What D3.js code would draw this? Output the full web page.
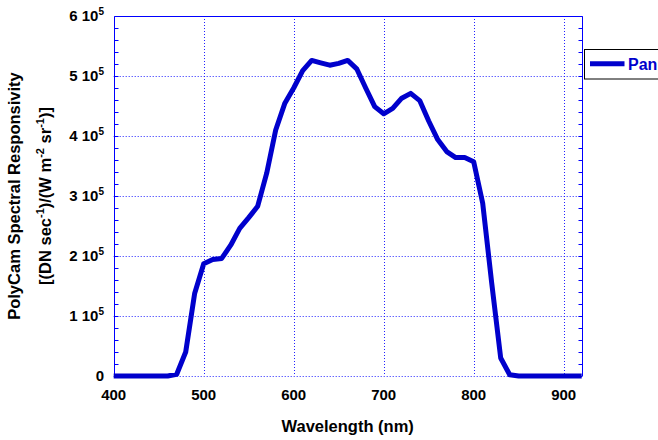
<!DOCTYPE html>
<html>
<head>
<meta charset="utf-8">
<script src="https://cdn.jsdelivr.net/npm/d3@7"></script>
<style>
  html, body { margin: 0; padding: 0; background: #fff; }
  svg { display: block; font-family: "Liberation Sans", Arial, sans-serif; }
</style>
</head>
<body>
<svg id="chart" width="658" height="440"></svg>
<script>
const wavelengths = [400,410,420,430,440,450,460,470,480,490,500,510,520,530,540,550,560,570,580,590,600,610,620,630,640,650,660,670,680,690,700,710,720,730,740,750,760,770,780,790,800,810,820,830,840,850,860,870,880,890,900,910,920];
const panValues = [0,0,0,0,0,0,0,3000,40000,138000,187000,194000,196000,218000,246000,264000,283000,338000,410000,454000,480000,509000,526000,522000,518000,521000,526000,512000,480000,449000,437000,446000,463000,471000,459000,425000,394000,374000,364000,364000,357000,288000,155000,30000,2000,0,0,0,0,0,0,0,0];
const xTicks = [400,500,600,700,800,900];
const yTicks = [0,100000,200000,300000,400000,500000,600000];
const yMinorTicks = d3.range(0, 600001, 20000);
const seriesName = "Pan";
const xTitle = "Wavelength (nm)";
const yTitle1 = "PolyCam Spectral Responsivity";

const svg = d3.select("#chart");
const L = 113.7, R = 581.7, T = 16, B = 376;
const x = d3.scaleLinear().domain([400, 920]).range([L, R]);
const y = d3.scaleLinear().domain([0, 600000]).range([B, T]);
const blue = "#0000cc";
const gridBlue = "#2020ff";

// grid
const g = svg.append("g");
g.selectAll(".vg").data(xTicks.filter(d => d > 400)).enter().append("line")
  .attr("x1", d => Math.round(x(d)) + 0.5).attr("x2", d => Math.round(x(d)) + 0.5)
  .attr("y1", T).attr("y2", B)
  .attr("stroke", gridBlue).attr("stroke-width", 1).attr("stroke-dasharray", "1,2");
g.selectAll(".hg").data(yTicks.filter(d => d < 600000)).enter().append("line")
  .attr("x1", L).attr("x2", R)
  .attr("y1", d => Math.round(y(d)) + 0.5).attr("y2", d => Math.round(y(d)) + 0.5)
  .attr("stroke", gridBlue).attr("stroke-width", 1).attr("stroke-dasharray", "1,2");

// frame
const xl = Math.round(L) + 0.5, xr = Math.round(R) + 0.5, yt = Math.round(T) + 0.5;
g.append("path").attr("d", `M${xl},${B}V${yt}H${xr}V${B}`)
  .attr("fill", "none").attr("stroke", "#0000ff").attr("stroke-width", 1);

// minor ticks on left and right
g.selectAll(".lt").data(yMinorTicks).enter().append("line")
  .attr("x1", xl).attr("x2", xl + 4)
  .attr("y1", d => Math.round(y(d)) + 0.5).attr("y2", d => Math.round(y(d)) + 0.5)
  .attr("stroke", "#0000ff").attr("stroke-width", 1);
g.selectAll(".rt").data(yMinorTicks).enter().append("line")
  .attr("x1", xr - 4).attr("x2", xr)
  .attr("y1", d => Math.round(y(d)) + 0.5).attr("y2", d => Math.round(y(d)) + 0.5)
  .attr("stroke", "#0000ff").attr("stroke-width", 1);

// data line
const line = d3.line().x((d, i) => x(wavelengths[i])).y(d => y(d));
svg.append("path").datum(panValues)
  .attr("d", line)
  .attr("fill", "none").attr("stroke", blue).attr("stroke-width", 5)
  .attr("stroke-linejoin", "round");

// x tick labels
svg.selectAll(".xl").data(xTicks).enter().append("text")
  .attr("x", d => x(d)).attr("y", 400)
  .attr("text-anchor", "middle").attr("font-size", 15).attr("font-weight", "bold")
  .text(d => d);

// y tick labels
yTicks.forEach(v => {
  const t = svg.append("text")
    .attr("x", 104).attr("y", y(v) + 4.5)
    .attr("text-anchor", "end").attr("font-size", 15).attr("font-weight", "bold");
  if (v === 0) {
    t.text("0");
  } else {
    t.append("tspan").text((v / 100000) + " 10");
    t.append("tspan").attr("font-size", 10).attr("dy", -6).text("5");
  }
});

// x title
svg.append("text").attr("x", (L + R) / 2).attr("y", 432)
  .attr("text-anchor", "middle").attr("font-size", 16.5).attr("font-weight", "bold")
  .text(xTitle);

// y title
const cy = 196;
svg.append("text").attr("transform", `translate(20,${cy}) rotate(-90)`)
  .attr("text-anchor", "middle").attr("font-size", 16.5).attr("font-weight", "bold")
  .text(yTitle1);
const t2 = svg.append("text").attr("transform", `translate(50.5,${cy}) rotate(-90)`)
  .attr("text-anchor", "middle").attr("font-size", 16.5).attr("font-weight", "bold");
const parts = [["[(DN sec", 0], ["-1", 1], [")/(W m", 0], ["-2", 1], [" sr", 0], ["-1", 1], [")]", 0]];
let prevSup = false;
parts.forEach(([s, sup]) => {
  const ts = t2.append("tspan").text(s);
  if (sup) { ts.attr("font-size", 11).attr("dy", prevSup ? 0 : -7); prevSup = true; }
  else if (prevSup) { ts.attr("dy", 7); prevSup = false; }
});

// legend
const lg = svg.append("g");
lg.append("rect").attr("x", 584.5).attr("y", 49.5).attr("width", 100).attr("height", 29.5)
  .attr("fill", "#fff").attr("stroke", "#000").attr("stroke-width", 1);
lg.append("line").attr("x1", 590).attr("x2", 624.5).attr("y1", 63.7).attr("y2", 63.7)
  .attr("stroke", blue).attr("stroke-width", 5);
lg.append("text").attr("x", 628).attr("y", 69.5)
  .attr("font-size", 16).attr("font-weight", "bold").attr("fill", blue)
  .text(seriesName);
</script>
</body>
</html>
